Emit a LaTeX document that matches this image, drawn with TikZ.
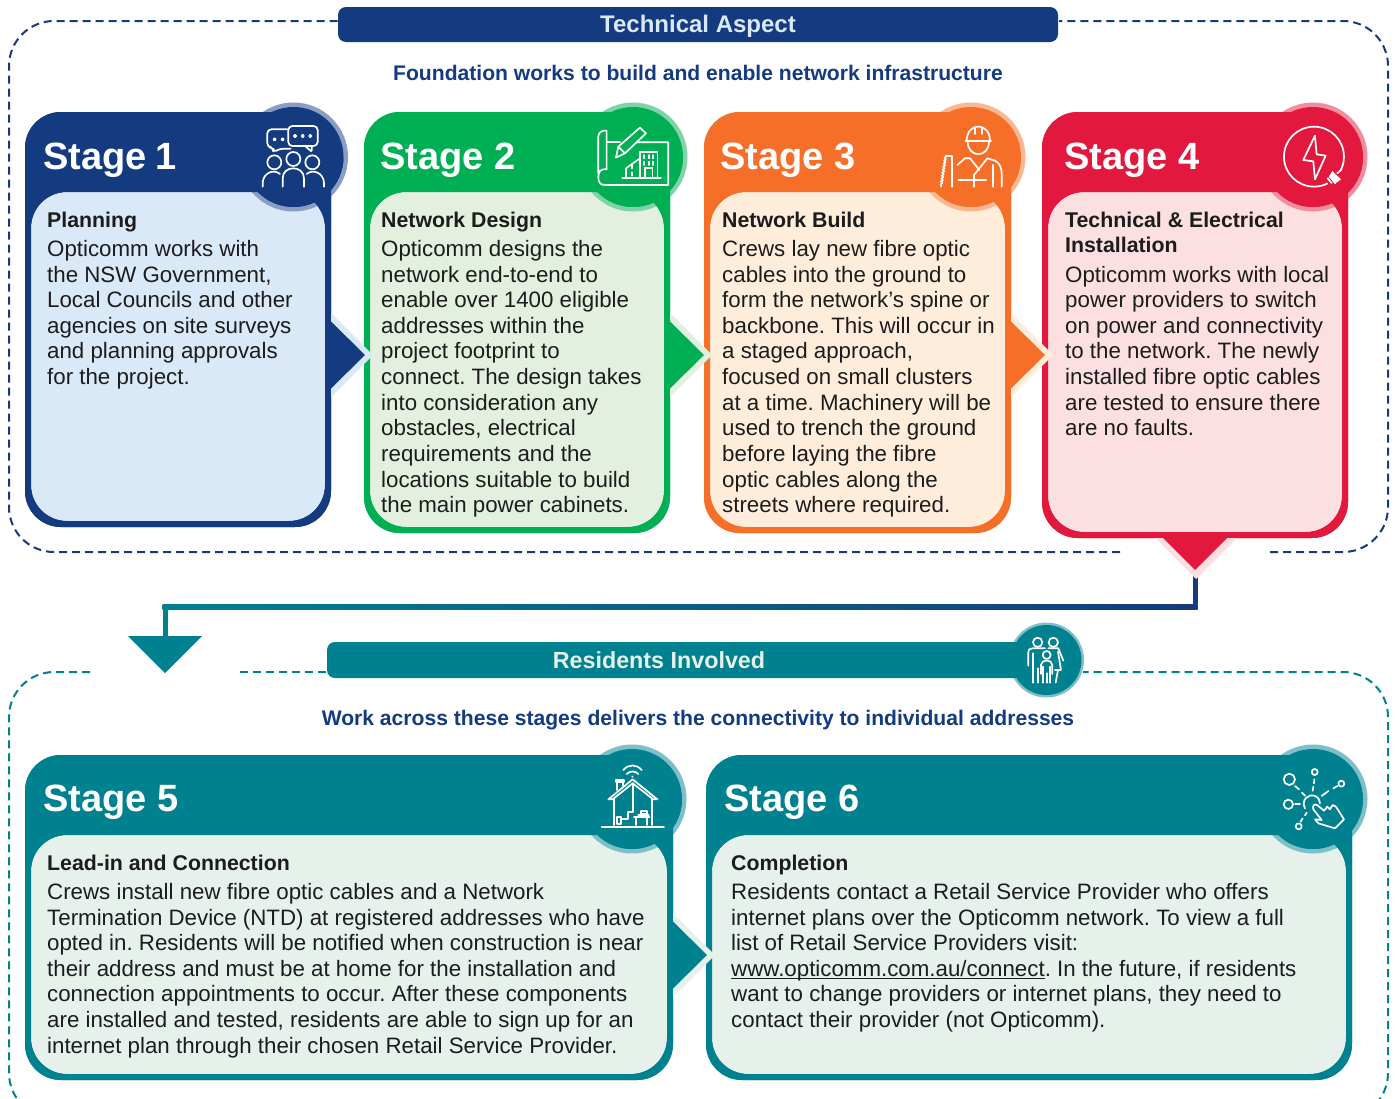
\documentclass[tikz,border=0pt]{standalone}
\usepackage{fontspec}
\setmainfont{Liberation Sans}
\usetikzlibrary{decorations.pathmorphing}
\frenchspacing
\definecolor{navyM}{HTML}{143A80}\definecolor{navyP}{HTML}{DAE9F8}\definecolor{navyH}{HTML}{8A9DC3}
\definecolor{greenM}{HTML}{00AF54}\definecolor{greenP}{HTML}{E3F0DF}\definecolor{greenH}{HTML}{80D3A6}
\definecolor{orangeM}{HTML}{F56F28}\definecolor{orangeP}{HTML}{FFEDDC}\definecolor{orangeH}{HTML}{FBB792}
\definecolor{redM}{HTML}{E2183E}\definecolor{redP}{HTML}{FCE0E1}\definecolor{redH}{HTML}{F08EA0}
\definecolor{tealM}{HTML}{00818F}\definecolor{tealP}{HTML}{E5F1EA}\definecolor{tealH}{HTML}{7FBFC7}
\definecolor{inkT}{HTML}{1C1C1C}
\tikzset{
  stagetitle/.style={anchor=base west,inner sep=0,text=white,font=\fontsize{38}{40}\selectfont\bfseries},
  bodytext/.style={anchor=north west,inner sep=0,align=left,text=inkT,font=\fontsize{22.3}{25.65}\selectfont},
  bar/.style={rounded corners=8},
  bartext/.style={anchor=base,inner sep=0,font=\fontsize{24}{26}\selectfont\bfseries},
  subtitle/.style={anchor=base,inner sep=0,text=navyM,font=\fontsize{21.1}{24}\selectfont\bfseries},
  dashframe/.style={line width=2pt,dash pattern=on 8pt off 5pt,rounded corners=45},
  icon/.style={draw=white,line width=1.7pt,line cap=round,line join=round},
  zoomA/.style={shift={(230,90)},x=0.3333pt,y=-0.3333pt},
  zoomB/.style={shift={(900,90)},x=0.3333pt,y=-0.3333pt},
  zoomC/.style={shift={(960,520)},x=0.3333pt,y=-0.3333pt},
  zoomD/.style={shift={(560,740)},x=0.3333pt,y=-0.3333pt},
  zoomE/.style={shift={(1250,740)},x=0.3333pt,y=-0.3333pt},
}
\newcommand{\stagecard}[7]{%
  \fill[#7M,rounded corners=36] (#1,#2) rectangle (#3,#4);
  \fill[#7P,rounded corners=36] (#1+6,#2+80) rectangle (#3-6,#4-6);
  \fill[#7H] (#5,#6) circle (54.5);
  \fill[#7M] (#5,#6) circle (50);
  \fill[#7M,even odd rule,rounded corners=36] (#1,#2) rectangle (#3,#4)
     [rounded corners=36] (#1+6,#2+80) rectangle (#3-6,#4-6);
  \fill[#7M] (#5,#6) ++(-50,0) arc[start angle=180,end angle=0,radius=50] -- cycle;
}
\newcommand{\sidearrow}[4]{% x-base, tip-x(dark), y-centre, colour
  \fill[#4P] (#1,#3-42) -- (#2+8,#3) -- (#1,#3+42) -- cycle;
  \fill[#4M] (#1,#3-33.5) -- (#2,#3) -- (#1,#3+33.5) -- cycle;
}
\newcommand{\firstline}{\rule{0pt}{17pt}}
\newcommand{\headtext}[1]{{\fontsize{21.3}{25.65}\selectfont\bfseries #1}}
\begin{document}
\begin{tikzpicture}[x=1pt,y=-1pt]
\useasboundingbox (0,0) rectangle (1395,1098);
\fill[white] (0,0) rectangle (1395,1098);
% ---------- dashed frames
\draw[navyM,dashframe] (1270,552) -- (1388,552) -- (1388,21) -- (1059,21);
\draw[navyM,dashframe] (1120,552) -- (9,552) -- (9,21) -- (338,21);
\begin{scope}
\clip (0,0) rectangle (1395,1098);
\draw[tealM,dashframe] (90,672) -- (9,672) -- (9,1118) -- (1388,1118) -- (1388,672) -- (1083,672);
\draw[tealM,dashframe,rounded corners=0] (240,672) -- (327,672);
\end{scope}
% ---------- title bars
\fill[navyM,bar] (338,7) rectangle (1058,42);
\node[bartext,text=navyP] (techtitle) at (698,32.5) {Technical Aspect};
\node[subtitle] (techsub) at (698,80.5) {Foundation works to build and enable network infrastructure};
\fill[tealH] (1046.5,660) circle (37.5);
\fill[tealM,bar] (327,642) rectangle (1040,678);
\fill[tealM] (1046.5,660) circle (35);
\node[bartext,text=tealP,font=\fontsize{23.3}{26}\selectfont\bfseries] (restitle) at (659,668) {Residents Involved};
\node[subtitle] (ressub) at (698,725.5) {Work across these stages delivers the connectivity to individual addresses};
% ---------- connector between the two halves
\coordinate (hubA) at (1195,575);
\coordinate (hubB) at (1195,606.5);
\coordinate (hubC) at (165,606.5);
\coordinate (hubD) at (165,640);
\draw[navyM,line width=5pt] (hubA) -- ([yshift=2.5pt]hubB);
\shade[left color=tealM,right color=navyM] ([shift={(-2.5,-2.5)}]hubC) rectangle ([shift={(2.5,2.5)}]hubB);
\draw[tealM,line width=5pt] (hubC) -- (hubD);
\fill[tealM] (128,636) -- (202,636) -- (165,673) -- cycle;
% ---------- cards
\stagecard{25}{112}{331}{527}{293.5}{157}{navy}
\stagecard{364}{112}{670}{533}{633}{157}{green}
\stagecard{704}{112}{1011}{533}{971}{157}{orange}
\stagecard{1042}{112}{1348}{538}{1313}{157}{red}
\stagecard{25}{755}{673}{1080}{632}{799}{teal}
\stagecard{706}{755}{1352}{1080}{1313}{799}{teal}
% ---------- arrows between cards
\sidearrow{331}{365}{355}{navy}
\sidearrow{670}{704}{355}{green}
\sidearrow{1011}{1045}{355}{orange}
\sidearrow{673}{707}{955}{teal}
\fill[redP] (1155,538) -- (1237,538) -- (1196,579) -- cycle;
\fill[redM] (1162,537) -- (1228,537) -- (1195,570) -- cycle;
% ---------- stage titles
\node[stagetitle] (t1) at (43,169) {Stage\kern-2pt\ 1};
\node[stagetitle] (t2) at (380,169) {Stage 2};
\node[stagetitle] (t3) at (720,169) {Stage 3};
\node[stagetitle] (t4) at (1064,169) {Stage 4};
\node[stagetitle] (t5) at (43,811) {Stage 5};
\node[stagetitle] (t6) at (724,811) {Stage 6};
% ---------- body text
\node[bodytext] (b1) at (47,210) {\firstline\headtext{Planning}\\[3.5pt]Opticomm works with\\the NSW Government,\\Local Councils and other\\agencies on site surveys\\and planning approvals\\for the project.};
\node[bodytext] (b2) at (381,210) {\firstline\headtext{Network Design}\\[3.5pt]Opticomm designs the\\network end-to-end to\\enable over 1400 eligible\\addresses within the\\project footprint to\\connect. The design takes\\into consideration any\\obstacles, electrical\\requirements and the\\locations suitable to build\\the main power cabinets.};
\node[bodytext] (b3) at (722,210) {\firstline\headtext{Network Build}\\[3.5pt]Crews lay new fibre optic\\cables into the ground to\\form the network’s spine or\\backbone. This will occur in\\a staged approach,\\focused on small clusters\\at a time. Machinery will be\\used to trench the ground\\before laying the fibre\\optic cables along the\\streets where required.};
\node[bodytext] (b4) at (1065,210) {\firstline\headtext{Technical \& Electrical}\\\headtext{Installation}\\[3.5pt]Opticomm works with local\\power providers to switch\\on power and connectivity\\to the network. The newly\\installed fibre optic cables\\are tested to ensure there\\are no faults.};
\node[bodytext] (b5) at (47,853) {\firstline\headtext{Lead-in and Connection}\\[3.5pt]Crews install new fibre optic cables and a Network\\Termination Device (NTD) at registered addresses who have\\opted in. Residents will be notified when construction is near\\their address and must be at home for the installation and\\connection appointments to occur. After these components\\are installed and tested, residents are able to sign up for an\\internet plan through their chosen Retail Service Provider.};
\node[bodytext] (b6) at (731,853) {\firstline\headtext{Completion}\\[3.5pt]Residents contact a Retail Service Provider who offers\\internet plans over the Opticomm network. To view a full\\list of Retail Service Providers visit:\\\underline{\smash{www.opticomm.com.au/connect}}. In the future, if residents\\want to change providers or internet plans, they need to\\contact their provider (not Opticomm).};
% ---------- icon stage 1
\begin{scope}[zoomA,icon]
\draw[rounded corners=4] (175,118) -- (112,118) -- (112,172) -- (130,172) -- (130,188) -- (148,176) -- (182,176);
\draw[rounded corners=4] (175,108) rectangle (263,168);
\draw[rounded corners=1] (225,168) -- (245,185) -- (245,168);
\foreach \p in {(134,148),(158,148),(195,138),(218,138),(241,138)} \draw \p circle (3.5);
\draw (133,217) circle (21); \draw (190,207) circle (21); \draw (247,217) circle (21);
\draw (158,290) -- (158,265) .. controls (158,225) and (222,225) .. (222,265) -- (222,290);
\draw (98,290) -- (98,280) .. controls (98,250) and (130,235) .. (150,252);
\draw (282,290) -- (282,280) .. controls (282,250) and (250,235) .. (230,252);
\end{scope}
% ---------- icon stage 2
\begin{scope}[zoomA,icon]
\draw (1105,250) -- (1105,140) .. controls (1105,125) and (1120,120) .. (1130,122) -- (1130,238) .. controls (1112,235) and (1105,245) .. (1105,262) .. controls (1105,278) and (1112,285) .. (1125,285) -- (1315,285) -- (1315,157) -- (1222,157);
\draw (1130,157) -- (1170,157);
\draw (1158,203) -- (1165,170) -- (1230,113) -- (1248,130) -- (1185,190) -- cycle;
\draw (1165,170) -- (1185,190);
\draw (1230,265) -- (1230,185) -- (1283,185) -- (1283,265);
\draw (1188,265) -- (1188,235) -- (1230,205);
\draw (1177,265) -- (1293,265);
\draw (1245,265) -- (1245,235) -- (1268,235) -- (1268,265);
\foreach \x in {1243,1257,1270} {\draw (\x,195) -- (\x,205); \draw (\x,215) -- (\x,225);}
\draw (1207,225) -- (1207,235); \draw (1207,247) -- (1207,257);
\end{scope}
% ---------- icon stage 3
\begin{scope}[zoomB,icon]
\draw (197,153) -- (273,153);
\draw (200,153) .. controls (200,95) and (270,95) .. (270,153);
\draw (225,113) -- (225,132); \draw (245,113) -- (245,132);
\draw (203,155) .. controls (203,205) and (267,205) .. (267,155);
\draw (172,225) -- (195,205) -- (210,205) -- (238,240);
\draw (262,205) -- (222,255) -- (222,290);
\draw (262,205) -- (285,212) .. controls (300,220) and (305,235) .. (305,250) -- (305,290);
\draw (280,290) -- (280,225);
\draw (175,270) -- (258,270);
\draw (137,197) -- (155,197) -- (155,290);
\draw[decorate,decoration={zigzag,amplitude=0.8pt,segment length=3pt}] (137,197) -- (123,290);
\end{scope}
% ---------- icon stage 4
\begin{scope}[zoomB,icon]
\draw (1242,200) circle (90);
\fill[redM] (1303,263) circle (26);
\draw (1245,137) -- (1210,210) -- (1240,214) -- (1245,268) -- (1277,197) -- (1250,193) -- cycle;
\draw (1325,238) -- (1312,250);
\fill[white] (1297,243) -- (1323,268) -- (1310,278) -- (1286,262) -- cycle;
\draw (1283,265) -- (1295,279); \draw (1290,258) -- (1306,280);
\end{scope}
% ---------- icon residents
\begin{scope}[zoomC,icon]
\draw (233,367) circle (14); \draw (280,367) circle (14); \draw (260,405) circle (12);
\draw (205,437) -- (205,398) .. controls (205,388) and (210,385) .. (218,385) -- (255,385);
\draw (218,488) -- (218,400); \draw (233,488) -- (233,445);
\draw (265,385) -- (295,385) -- (310,422);
\draw (294,395) -- (303,450) -- (285,450);
\draw (294,450) -- (287,488);
\draw (243,462) -- (243,435) .. controls (243,417) and (277,417) .. (277,435) -- (277,462);
\draw (250,488) -- (250,440); \draw (260,488) -- (260,460); \draw (270,488) -- (270,440);
\end{scope}
% ---------- icon stage 5
\begin{scope}[zoomD,icon]
\draw (190,90) .. controls (205,72) and (230,72) .. (245,90);
\draw (200,102) .. controls (210,92) and (225,92) .. (235,102);
\fill[white] (217,110) circle (3);
\draw (145,178) -- (218,118) -- (292,178) -- (280,178) -- (218,130) -- (158,178) -- cycle;
\draw (167,120) -- (193,120) -- (193,127) -- (167,127) -- cycle;
\draw (172,127) -- (172,150); \draw (190,127) -- (190,136);
\draw (162,178) -- (162,255); \draw (275,178) -- (275,255);
\draw (125,260) -- (312,260);
\draw (218,130) -- (218,215) -- (205,215) -- (205,238) -- (185,238);
\draw (170,230) rectangle (182,253);
\draw (222,232) -- (268,232); \draw (228,232) -- (228,255); \draw (262,232) -- (262,255);
\draw (242,212) -- (262,212) -- (262,223) -- (242,223) -- cycle;
\draw (235,226) -- (266,226);
\end{scope}
% ---------- icon stage 6
\begin{scope}[zoomE,icon]
\draw (118,118) circle (17); \draw (194,96) circle (9); \draw (274,131) circle (9);
\draw (115,193) circle (14); \draw (146,259) circle (9);
\draw (165,205) .. controls (152,180) and (175,160) .. (195,168) .. controls (205,172) and (210,180) .. (210,190);
\draw (135,138) -- (147,148); \draw (156,158) -- (165,167);
\draw (193,118) -- (192,130); \draw (190,140) -- (188,152);
\draw (262,138) -- (250,145); \draw (235,153) -- (215,168);
\draw (135,191) -- (150,191);
\draw (170,218) -- (165,226); \draw (158,235) -- (152,245);
\draw (190,208) .. controls (185,195) and (197,188) .. (205,198) -- (222,212) -- (232,200) -- (240,208) -- (248,195) -- (258,200) -- (282,238) -- (255,265) -- (205,250) -- (195,238) -- (215,240) -- cycle;
\end{scope}
\end{tikzpicture}
\end{document}
